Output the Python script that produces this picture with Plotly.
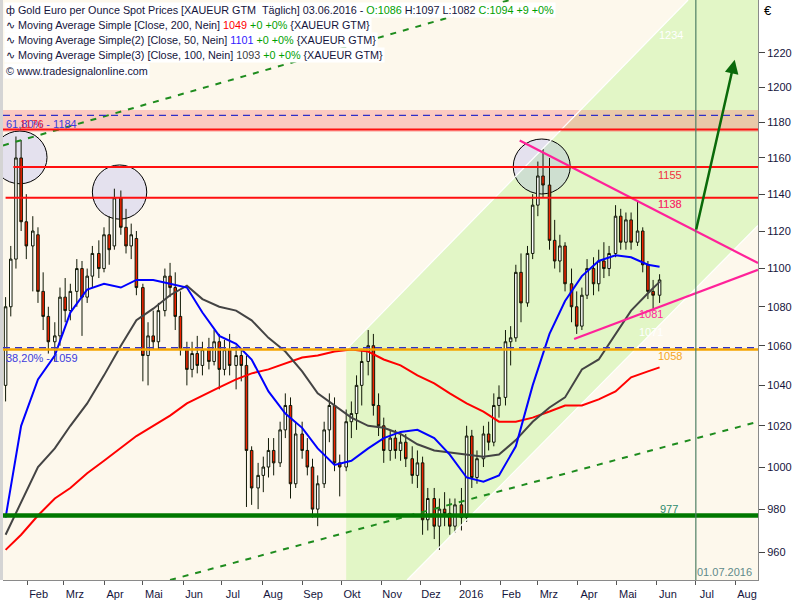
import numpy as np
import pandas as pd
import plotly.graph_objects as go

FONT = "Liberation Sans, Arial, sans-serif"
TXT = "#14143C"

# ---------------- candle data (3-trading-day bars) ----------------
start_date = "2015-01-15"
end_date = "2016-06-03"
n_bars = 120
open_ = [1040, 1080, 1105, 1160, 1125, 1112, 1118, 1088, 1075, 1062,
         1065, 1085, 1078, 1088, 1100, 1085, 1096, 1108, 1100, 1118,
         1112, 1138, 1122, 1112, 1116, 1090, 1055, 1065, 1062, 1078,
         1096, 1090, 1075, 1058, 1048, 1056, 1050, 1058, 1052, 1062,
         1048, 1058, 1050, 1055, 1050, 1008, 990, 996, 1000, 1008,
         1002, 1018, 1030, 992, 1016, 1008, 1000, 980, 992, 1018,
         1030, 1002, 1000, 1022, 1026, 1040, 1052, 1060, 1030, 1020,
         1008, 1014, 1008, 1012, 1004, 996, 1002, 975, 985, 972,
         980, 978, 972, 982, 976, 1015, 995, 1004, 1016, 1012,
         1030, 1034, 1062, 1064, 1098, 1082, 1108, 1134, 1150, 1145,
         1115, 1104, 1112, 1092, 1080, 1070, 1086, 1100, 1092, 1104,
         1100, 1108, 1128, 1114, 1126, 1114, 1120, 1102, 1088, 1086]
high = [1085, 1112, 1172, 1170, 1140, 1128, 1122, 1098, 1080, 1072,
        1090, 1095, 1092, 1105, 1104, 1100, 1112, 1115, 1122, 1128,
        1143, 1142, 1132, 1124, 1120, 1092, 1072, 1078, 1082, 1100,
        1103, 1098, 1088, 1062, 1062, 1065, 1062, 1064, 1068, 1066,
        1063, 1066, 1060, 1058, 1055, 1010, 1002, 1005, 1014, 1014,
        1022, 1036, 1034, 1022, 1022, 1014, 1004, 996, 1022, 1036,
        1034, 1006, 1028, 1032, 1045, 1058, 1068, 1066, 1036, 1024,
        1018, 1018, 1016, 1016, 1010, 1008, 1005, 990, 990, 985,
        988, 985, 985, 990, 1020, 1018, 1008, 1020, 1022, 1036,
        1040, 1068, 1070, 1102, 1108, 1112, 1140, 1158, 1165, 1160,
        1126, 1118, 1114, 1100, 1088, 1090, 1105, 1106, 1110, 1114,
        1112, 1134, 1132, 1130, 1130, 1136, 1122, 1104, 1094, 1097]
low = [1032, 1075, 1100, 1120, 1105, 1088, 1082, 1068, 1056, 1052,
       1060, 1072, 1073, 1080, 1065, 1082, 1090, 1095, 1098, 1102,
       1110, 1118, 1108, 1105, 1086, 1042, 1040, 1058, 1058, 1075,
       1085, 1068, 1055, 1040, 1044, 1046, 1045, 1048, 1050, 1038,
       1045, 1045, 1038, 1042, 981, 982, 980, 988, 995, 996,
       1000, 1014, 985, 990, 1004, 996, 976, 972, 990, 1012,
       998, 986, 998, 1014, 1018, 1030, 1045, 1025, 1015, 1002,
       1003, 1004, 1003, 1000, 992, 990, 968, 970, 966, 961,
       972, 968, 969, 970, 974, 990, 992, 1000, 1008, 1010,
       1024, 1030, 1050, 1062, 1072, 1080, 1105, 1128, 1138, 1110,
       1100, 1098, 1088, 1072, 1066, 1068, 1084, 1086, 1088, 1095,
       1096, 1106, 1110, 1110, 1110, 1112, 1098, 1084, 1079, 1082]
close = [1080, 1105, 1160, 1125, 1112, 1120, 1088, 1075, 1062, 1065,
         1085, 1078, 1088, 1100, 1085, 1096, 1108, 1100, 1118, 1110,
         1138, 1122, 1112, 1118, 1090, 1055, 1065, 1062, 1078, 1096,
         1090, 1075, 1058, 1048, 1056, 1050, 1058, 1052, 1062, 1048,
         1058, 1050, 1055, 1050, 1008, 990, 996, 1000, 1008, 1002,
         1018, 1030, 992, 1016, 1008, 1000, 980, 992, 1018, 1030,
         1002, 1000, 1022, 1026, 1040, 1052, 1060, 1030, 1020, 1008,
         1014, 1008, 1012, 1004, 996, 1002, 975, 985, 972, 980,
         978, 972, 982, 976, 1015, 995, 1004, 1016, 1012, 1030,
         1034, 1062, 1064, 1098, 1082, 1108, 1134, 1150, 1145, 1115,
         1104, 1112, 1092, 1080, 1070, 1086, 1100, 1092, 1104, 1100,
         1108, 1128, 1114, 1126, 1114, 1120, 1102, 1088, 1086, 1094]

# moving averages sampled at every 3rd bar (+ last bar)
ma_idx = list(range(0, 118, 3)) + [119]
ma200 = [961, 968, 977, 985, 990, 997, 1003, 1009, 1015, 1020,
         1025, 1031, 1035, 1039, 1043, 1046, 1048, 1051, 1054, 1055,
         1057, 1058, 1057, 1053, 1050, 1045, 1041, 1036, 1031, 1027,
         1022, 1022, 1024, 1027, 1030, 1030, 1033, 1037, 1044, 1047, 1049]
ma50 = [976, 1020, 1043, 1055, 1077, 1089, 1092, 1090, 1094, 1094,
        1092, 1090, 1077, 1065, 1061, 1053, 1037, 1026, 1019, 1009,
        1001, 1003, 1009, 1014, 1017, 1018, 1014, 1006, 995, 993,
        996, 1010, 1040, 1066, 1083, 1096, 1104, 1107, 1106, 1102, 1101]
ma100 = [968, 983, 1000, 1009, 1020, 1031, 1045, 1060, 1073, 1079,
         1086, 1091, 1084, 1080, 1078, 1073, 1064, 1057, 1047, 1036,
         1030, 1024, 1020, 1019, 1016, 1011, 1008, 1007, 1006, 1005,
         1006, 1013, 1022, 1029, 1034, 1048, 1053, 1066, 1078, 1087, 1093]

# axis
x_range = ["2015-01-13", "2016-08-18"]
y_lo, y_hi = 947.2, 1251.4
price_ticks = [960, 980, 1000, 1020, 1040, 1060, 1080, 1100, 1120, 1140,
               1160, 1180, 1200, 1220]
month_ticks = ["2015-02-01", "2015-03-01", "2015-04-01", "2015-05-01", "2015-06-01",
               "2015-07-01", "2015-08-01", "2015-09-01", "2015-10-01", "2015-11-01",
               "2015-12-01", "2016-01-01", "2016-02-01", "2016-03-01", "2016-04-01",
               "2016-05-01", "2016-06-01", "2016-07-01", "2016-08-01"]
month_labels = ["Feb", "Mrz", "Apr", "Mai", "Jun", "Jul", "Aug", "Sep", "Okt", "Nov",
                "Dez", "2016", "Feb", "Mrz", "Apr", "Mai", "Jun", "Jul", "Aug"]

# drawing tools (levels, lines)
res_levels = [1176, 1155, 1138]
res_starts = ["2015-01-13", "2015-01-21", "2015-01-15"]
fib618, fib382 = 1184, 1059
orange_level = 1058
green_level = 977
band_lo, band_hi = 1174.6, 1187
channel_poly = [("2015-10-05", y_lo), ("2015-10-05", 1058), ("2016-06-25", y_hi),
                ("2016-08-18", y_hi), ("2016-08-18", 1123), ("2015-11-21", y_lo)]
chan_up_x, chan_up_y = ["2015-10-05", "2016-06-25"], [1058, y_hi]
chan_lo_x, chan_lo_y = ["2015-11-21", "2016-08-18"], [y_lo, 1123]
circles = [("2015-01-05", "2015-02-16", 1145.7, 1175.1),
           ("2015-03-23", "2015-05-04", 1126.4, 1156.1),
           ("2016-02-11", "2016-03-26", 1140.1, 1170.6)]
dash_up_x, dash_up_y = ["2015-01-13", "2016-02-29"], [1167, 1256]
dash_lo_x, dash_lo_y = ["2015-05-22", "2016-08-18"], [947.2, 1022]
tri_up_x, tri_up_y = ["2016-02-16", "2016-08-18"], [1169.7, 1102.9]
tri_lo_x, tri_lo_y = ["2016-03-29", "2016-08-18"], [1063.4, 1099.3]
vline_date = "2016-07-01"
arrow_from = ("2016-07-01", 1120)
arrow_to = ("2016-07-31", 1216)

dates = pd.date_range(start_date, end_date, periods=n_bars).normalize()
ma_dates = dates[ma_idx]

fig = go.Figure()
for xs, ys in [(chan_up_x, chan_up_y), (chan_lo_x, chan_lo_y)]:
    fig.add_trace(go.Scatter(x=xs, y=ys, mode="lines",
                             line=dict(color="#FFFFFF", width=1.2), hoverinfo="skip"))
fig.add_trace(go.Candlestick(
    x=dates, open=open_, high=high, low=low, close=close,
    increasing=dict(line=dict(color="#101806", width=1), fillcolor="#FFFFFF"),
    decreasing=dict(line=dict(color="#101806", width=1), fillcolor="#EE2200"),
    whiskerwidth=0, hoverinfo="skip"))
fig.add_trace(go.Scatter(x=ma_dates, y=ma200, mode="lines",
                         line=dict(color="#FF0000", width=2)))
fig.add_trace(go.Scatter(x=ma_dates, y=ma100, mode="lines",
                         line=dict(color="#444444", width=2)))
fig.add_trace(go.Scatter(x=ma_dates, y=ma50, mode="lines",
                         line=dict(color="#0000FF", width=2)))
for xs, ys in [(dash_up_x, dash_up_y), (dash_lo_x, dash_lo_y)]:
    fig.add_trace(go.Scatter(x=xs, y=ys, mode="lines",
                             line=dict(color="#1E8C1E", width=2, dash="6px,7px")))
for xs, ys in [(tri_up_x, tri_up_y), (tri_lo_x, tri_lo_y)]:
    fig.add_trace(go.Scatter(x=xs, y=ys, mode="lines",
                             line=dict(color="#FF2299", width=2.2)))

shapes = []
path = "M " + " L ".join(f"{d},{p}" for d, p in channel_poly) + " Z"
shapes.append(dict(type="path", path=path, xref="x", yref="y",
                   fillcolor="#E2F6C6", line=dict(width=0), layer="below"))
shapes.append(dict(type="rect", xref="x", x0="2014-12-01", x1="2016-09-30", yref="y",
                   y0=band_lo, y1=band_hi,
                   fillcolor="rgba(247,117,115,0.35)", line=dict(width=0), layer="below"))
for x0, x1, y0, y1 in circles:
    shapes.append(dict(type="circle", xref="x", yref="y", x0=x0, x1=x1, y0=y0, y1=y1,
                       fillcolor="rgba(128,134,248,0.2)", line=dict(color="#000000", width=1),
                       layer="below"))
# levels
shapes.append(dict(type="line", xref="paper", x0=0, x1=1, yref="y", y0=fib618, y1=fib618,
                   line=dict(color="#3030C8", width=1.3, dash="7px,5px"), layer="above"))
for lvl, st in zip(res_levels, res_starts):
    shapes.append(dict(type="line", xref="x", x0=st, x1=x_range[1], yref="y", y0=lvl, y1=lvl,
                       line=dict(color="#FF1010", width=2), layer="above"))
shapes.append(dict(type="line", xref="paper", x0=0, x1=1, yref="y", y0=orange_level, y1=orange_level,
                   line=dict(color="#F5A400", width=2.5), layer="above"))
shapes.append(dict(type="line", xref="paper", x0=0, x1=1, yref="y", y0=fib382, y1=fib382,
                   line=dict(color="#3030C8", width=1.3, dash="7px,5px"), layer="above"))
shapes.append(dict(type="line", xref="paper", x0=0, x1=1, yref="y", y0=green_level, y1=green_level,
                   line=dict(color="#007800", width=4.5), layer="above"))
shapes.append(dict(type="line", xref="x", x0=vline_date, x1=vline_date, yref="paper", y0=0, y1=1,
                   line=dict(color="#4F7F65", width=1.2), layer="above"))
shapes.append(dict(type="rect", xref="paper", x0=-0.004, x1=0, yref="paper", y0=0, y1=1,
                   fillcolor="#D4D4D4", line=dict(width=0), layer="above"))

L10 = np.log10
ann = []


def lab(text, date, price, color, size=11):
    ann.append(dict(text=text, x=date, y=L10(price), xref="x", yref="y", showarrow=False,
                    font=dict(family=FONT, size=size, color=color), xanchor="center",
                    yanchor="middle"))


lab("1234", "2016-06-12", 1230.6, "#FFFFFF")
lab("1155", "2016-06-11", 1150.6, "#F03040")
lab("1138", "2016-06-11", 1134.6, "#F03040")
lab("1136", "2016-06-11", 1134.6, "rgba(255,40,150,0.6)")
lab("1081", "2016-05-27", 1076.3, "#FF2A9A")
lab("1071", "2016-05-27", 1067.0, "#FFFFFF")
lab("1058", "2016-06-11", 1054.8, "#F5A623")
lab("977", "2016-06-10", 980.0, "#2E8B6E")
lab("01.07.2016", "2016-07-23", 950.8, "#5F8A8A")

ann.append(dict(x=arrow_to[0], y=L10(arrow_to[1]), ax=arrow_from[0], ay=L10(arrow_from[1]),
                xref="x", yref="y", axref="x", ayref="y", text="", showarrow=True,
                arrowhead=2, arrowsize=1.1, arrowwidth=2.5, arrowcolor="#0A6A0A", standoff=0))


def ptxt(text, px, py, color, anchor="left", size=11, bg=None):
    d = dict(text=text, x=(px - 3) / 755, y=1 - py / 580, xref="paper", yref="paper",
             showarrow=False, xanchor=anchor, yanchor="middle",
             font=dict(family=FONT, size=size, color=color))
    if bg:
        d.update(bgcolor=bg, borderpad=1)
    ann.append(d)


ptxt("61,80% - 1184", 4, 124, "#3C3CDC")
ptxt("1176", 18, 124, "rgba(255,20,20,0.85)")
ptxt("38,20% - 1059", 4, 358, "#3C3CDC")

G = "#00A000"
hdr = [
    ("ф Gold Euro per Ounce Spot Prices [XAUEUR GTM  Täglich] 03.06.2016 - "
     f"<span style='color:{G}'>O:1086</span> H:1097 L:1082 "
     f"<span style='color:{G}'>C:1094 +9 +0%</span>", 10),
    ("∿ Moving Average Simple [Close, 200, Nein] <span style='color:#FF0000'>1049</span> "
     f"<span style='color:{G}'>+0 +0%</span> {{XAUEUR GTM}}", 25),
    ("∿ Moving Average Simple(2) [Close, 50, Nein] <span style='color:#3020FF'>1101</span> "
     f"<span style='color:{G}'>+0 +0%</span> {{XAUEUR GTM}}", 40),
    ("∿ Moving Average Simple(3) [Close, 100, Nein] <span style='color:#404040'>1093</span> "
     f"<span style='color:{G}'>+0 +0%</span> {{XAUEUR GTM}}", 55),
    ("© www.tradesignalonline.com", 71),
]
for t, py in hdr:
    ptxt(t, 4, py, TXT, size=10.8, bg="#FFFFFF")

ptxt("€", 762, 10, "#000000", size=13)

fig.update_layout(
    width=800, height=600,
    margin=dict(l=3, r=42, t=0, b=20),
    paper_bgcolor="#FFFFFF", plot_bgcolor="#FDF8EC",
    showlegend=False, shapes=shapes, annotations=ann,
    xaxis=dict(type="date", range=x_range, tickvals=month_ticks, ticktext=month_labels,
               ticks="outside", ticklen=4, tickcolor="#555555", ticklabelshift=11,
               showgrid=False, zeroline=False, showline=True, linecolor="#8A8A8A",
               rangeslider=dict(visible=False),
               tickfont=dict(family=FONT, size=11, color=TXT)),
    yaxis=dict(type="log", range=[L10(y_lo), L10(y_hi)], side="right",
               tickvals=price_ticks, ticktext=[str(v) for v in price_ticks],
               ticks="outside", ticklen=6, tickcolor="#444444",
               showgrid=False, zeroline=False, showline=True, linecolor="#8A8A8A",
               tickfont=dict(family=FONT, size=11, color=TXT)),
)

fig.write_html("out.html", config={"displayModeBar": False},
               post_script="document.body.style.margin='0px';"
                           "document.body.style.overflow='hidden';")
